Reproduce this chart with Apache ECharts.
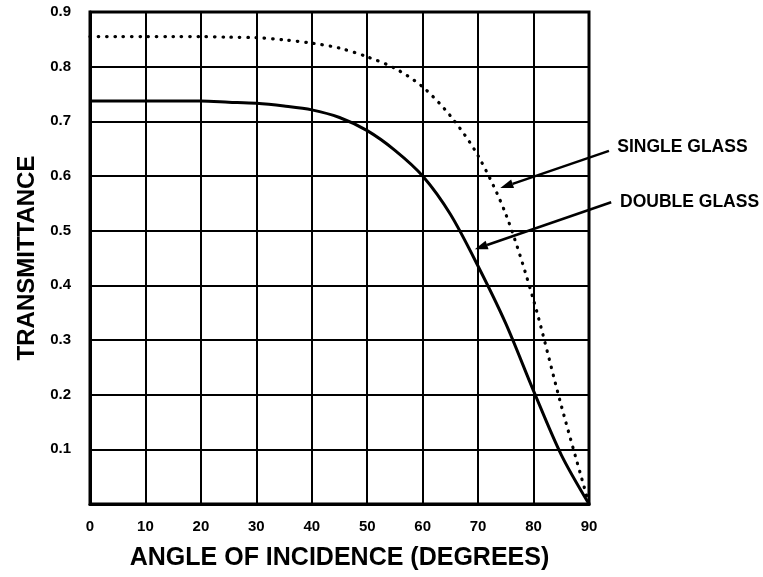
<!DOCTYPE html>
<html>
<head>
<meta charset="utf-8">
<script src="https://cdn.jsdelivr.net/npm/echarts@6/dist/echarts.min.js"></script>
<style>
html,body{margin:0;padding:0;background:#fff;}
#chart{width:763px;height:577px;}
</style>
</head>
<body>
<div id="chart"></div>
<script>
// ---- data ----
var angles = [0, 5, 10, 15, 20, 25, 30, 35, 40, 45, 50, 55, 60, 65, 70, 75, 80, 85, 90];
var singleGlass = [0.855, 0.855, 0.855, 0.855, 0.855, 0.854, 0.853, 0.849, 0.843, 0.834, 0.818, 0.797, 0.763, 0.71, 0.637, 0.53, 0.373, 0.18, 0];
var doubleGlass = [0.737, 0.737, 0.737, 0.737, 0.737, 0.735, 0.733, 0.728, 0.721, 0.707, 0.683, 0.647, 0.6, 0.53, 0.435, 0.33, 0.207, 0.09, 0];
var xTicks = [0, 10, 20, 30, 40, 50, 60, 70, 80, 90];
var yTicks = [0.1, 0.2, 0.3, 0.4, 0.5, 0.6, 0.7, 0.8, 0.9];
var xTitle = 'ANGLE OF INCIDENCE (DEGREES)';
var yTitle = 'TRANSMITTANCE';
var singleLabel = 'SINGLE GLASS';
var doubleLabel = 'DOUBLE GLASS';
// annotation anchors in data units: [tail, tip, label]
var singleArrow = [[93.6, 0.646], [74.0, 0.578], [95.1, 0.653]];
var doubleArrow = [[94.0, 0.552], [69.4, 0.466], [95.6, 0.553]];

function pairs(xs, ys) { return xs.map(function (x, i) { return [x, ys[i]]; }); }

var FONT = '"Liberation Sans", Arial, sans-serif';
var chart = echarts.init(document.getElementById('chart'), null, {renderer: 'canvas'});
chart.setOption({
  backgroundColor: '#ffffff',
  animation: false,
  grid: {left: 90, top: 12, width: 499, height: 492, show: true, borderColor: '#000', borderWidth: 3, backgroundColor: 'transparent'},
  xAxis: {
    type: 'value', min: 0, max: 90, interval: 10,
    name: xTitle, nameLocation: 'middle', nameGap: 42,
    nameTextStyle: {fontFamily: FONT, fontWeight: 'bold', fontSize: 25, color: '#000'},
    axisLine: {show: true, lineStyle: {color: '#000', width: 3}},
    axisTick: {show: false},
    splitLine: {show: true, lineStyle: {color: '#000', width: 2}},
    axisLabel: {margin: 15, fontFamily: FONT, fontWeight: 'bold', fontSize: 15, color: '#000',
      formatter: function (v) { return xTicks.indexOf(Math.round(v)) >= 0 ? String(Math.round(v)) : ''; }}
  },
  yAxis: {
    type: 'value', min: 0, max: 0.9, interval: 0.1,
    name: yTitle, nameLocation: 'middle', nameGap: 50, nameRotate: 90,
    nameTextStyle: {fontFamily: FONT, fontWeight: 'bold', fontSize: 24, color: '#000'},
    axisLine: {show: true, lineStyle: {color: '#000', width: 3}},
    axisTick: {show: false},
    splitLine: {show: true, lineStyle: {color: '#000', width: 2}},
    axisLabel: {margin: 19, fontFamily: FONT, fontWeight: 'bold', fontSize: 15, color: '#000',
      formatter: function (v) {
        var r = Math.round(v * 10) / 10;
        return yTicks.indexOf(r) >= 0 ? r.toFixed(1) : '';
      }}
  },
  series: [
    {
      name: singleLabel, type: 'line', data: pairs(angles, singleGlass),
      showSymbol: false, smooth: 0.3,
      lineStyle: {color: '#000', width: 3.2, type: [0.5, 7.8], cap: 'round'}
    },
    {
      name: doubleLabel, type: 'line', data: pairs(angles, doubleGlass),
      showSymbol: false, smooth: 0.3,
      lineStyle: {color: '#000', width: 3}
    }
  ]
});

function arrowGraphics(spec, label) {
  var tail = chart.convertToPixel({gridIndex: 0}, spec[0]);
  var tip = chart.convertToPixel({gridIndex: 0}, spec[1]);
  var lab = chart.convertToPixel({gridIndex: 0}, spec[2]);
  var dx = tip[0] - tail[0], dy = tip[1] - tail[1];
  var len = Math.sqrt(dx * dx + dy * dy);
  var ux = dx / len, uy = dy / len;
  var headL = 13, headW = 4.5;
  var bx = tip[0] - ux * headL, by = tip[1] - uy * headL;
  return [
    {type: 'line', shape: {x1: tail[0], y1: tail[1], x2: bx, y2: by}, style: {stroke: '#000', lineWidth: 2.5}},
    {type: 'polygon', shape: {points: [[tip[0], tip[1]], [bx - uy * headW, by + ux * headW], [bx + uy * headW, by - ux * headW]]}, style: {fill: '#000'}},
    {type: 'text', x: lab[0], y: lab[1], style: {text: label, fill: '#000', font: 'bold 17.5px ' + FONT, textVerticalAlign: 'middle', textAlign: 'left'}}
  ];
}
chart.setOption({graphic: arrowGraphics(singleArrow, singleLabel).concat(arrowGraphics(doubleArrow, doubleLabel))});
</script>
</body>
</html>
